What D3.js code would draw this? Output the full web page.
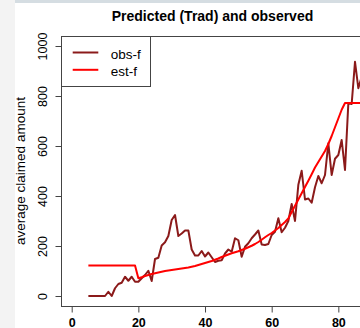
<!DOCTYPE html>
<html>
<head>
<meta charset="utf-8">
<script src="https://cdn.jsdelivr.net/npm/d3@7"></script>
<style>
  html, body { margin: 0; padding: 0; background: #fff; }
  svg { display: block; font-family: "Liberation Sans", Arial, Helvetica, sans-serif; }
</style>
</head>
<body>
<svg id="chart" width="360" height="328"></svg>
<script>
// Age of policyholder (x) with observed and estimated average claim amount
const ages = [5, 6, 7, 8, 9, 10, 11, 12, 13, 14, 15, 16, 17, 18, 19, 20, 21, 22, 23, 24,
  25, 26, 27, 28, 29, 30, 31, 32, 33, 34, 35, 36, 37, 38, 39, 40, 41, 42, 43, 44,
  45, 46, 47, 48, 49, 50, 51, 52, 53, 54, 55, 56, 57, 58, 59, 60, 61, 62, 63, 64,
  65, 66, 67, 68, 69, 70, 71, 72, 73, 74, 75, 76, 77, 78, 79, 80, 81, 82, 83, 84,
  85, 86, 87];

const observed = [0, 0, 0, 0, 0, 0, 17, 0, 31, 48, 53, 77, 61, 77, 57, 57, 71, 84, 101, 60,
  148, 153, 202, 215, 240, 304, 324, 240, 250, 262, 262, 186, 162, 162, 180, 158, 174, 155, 136, 141,
  143, 170, 186, 177, 231, 223, 157, 197, 211, 231, 246, 262, 206, 204, 208, 244, 257, 311, 255, 273,
  300, 368, 300, 445, 501, 386, 390, 373, 435, 480, 451, 484, 611, 484, 549, 564, 624, 504, 771, 768,
  937, 831, 877];

const estimated = [122, 122, 122, 122, 122, 122, 122, 122, 122, 122, 122, 122, 122, 122, 122, 71, 75, 80, 84, 88,
  91, 94, 97, 100, 102, 104, 106, 108, 110, 112, 114, 117, 120, 124, 128, 132, 136, 140, 145, 150,
  156, 161, 166, 171, 175, 179, 184, 189, 195, 201, 208, 216, 225, 235, 244, 252, 262, 272, 284, 296,
  310, 336, 361, 386, 411, 436, 461, 487, 514, 536, 558, 580, 608, 640, 675, 710, 745, 772, 772, 772,
  772, 772, 772];

const xTicks = [0, 20, 40, 60, 80];
const yTicks = [0, 200, 400, 600, 800, 1000];
const seriesNames = ["obs-f", "est-f"];
const seriesColors = ["#8B1A1A", "#FF0000"];
const titleText = "Predicted (Trad) and observed";
const yTitle = "average claimed amount";

const svg = d3.select("#chart");
const W = 360, H = 328;
const plot = { left: 61, right: 364, top: 36, bottom: 306 };

// page backdrop strips
svg.append("rect").attr("x", 0).attr("y", 0).attr("width", W).attr("height", H).attr("fill", "#ffffff");
svg.append("rect").attr("x", 0).attr("y", 0).attr("width", 15).attr("height", H).attr("fill", "#f3f3f3");
svg.append("rect").attr("x", 15).attr("y", 0).attr("width", W - 15).attr("height", 3).attr("fill", "#d5dde2");

// scales: R-style 4% padding around the data range
const x = d3.scaleLinear().domain([-3.21, 87.7]).range([plot.left, plot.right]);
const y = d3.scaleLinear().domain([-40, 1040]).range([plot.bottom, plot.top]);

svg.append("defs").append("clipPath").attr("id", "plotClip")
  .append("rect")
  .attr("x", plot.left).attr("y", plot.top)
  .attr("width", plot.right - plot.left).attr("height", plot.bottom - plot.top);

const g = svg.append("g").attr("clip-path", "url(#plotClip)");

const rows = ages.map((a, i) => ({ age: a, obs: observed[i], est: estimated[i] }));

const lineObs = d3.line().x(d => x(d.age)).y(d => y(d.obs));
const lineEst = d3.line().x(d => x(d.age)).y(d => y(d.est));

g.append("path").datum(rows).attr("d", lineObs)
  .attr("fill", "none").attr("stroke", seriesColors[0]).attr("stroke-width", 2)
  .attr("stroke-linejoin", "round");
g.append("path").datum(rows).attr("d", lineEst)
  .attr("fill", "none").attr("stroke", seriesColors[1]).attr("stroke-width", 2)
  .attr("stroke-linejoin", "round");

// plot frame
svg.append("rect")
  .attr("x", plot.left + 0.5).attr("y", plot.top + 0.5)
  .attr("width", plot.right - plot.left).attr("height", plot.bottom - plot.top)
  .attr("fill", "none").attr("stroke", "#444").attr("stroke-width", 1);

// x axis
const xAxis = svg.append("g")
  .attr("transform", `translate(0,${plot.bottom + 0.5})`)
  .call(d3.axisBottom(x).tickValues(xTicks).tickSize(6).tickSizeOuter(0).tickFormat(d3.format("d")));
xAxis.select(".domain").remove();
xAxis.selectAll(".tick line").attr("stroke", "#444");
xAxis.selectAll(".tick text")
  .attr("y", 20).attr("dy", 0)
  .attr("font-size", "12.5px").attr("font-weight", "bold")
  .attr("font-family", "Liberation Sans, Arial, sans-serif")
  .attr("fill", "#000");

// y axis with rotated labels
const yAxis = svg.append("g")
  .attr("transform", `translate(${plot.left + 0.5},0)`)
  .call(d3.axisLeft(y).tickValues(yTicks).tickSize(6).tickSizeOuter(0).tickFormat(d3.format("d")));
yAxis.select(".domain").remove();
yAxis.selectAll(".tick line").attr("stroke", "#444");
yAxis.selectAll(".tick text")
  .attr("transform", "rotate(-90)")
  .attr("x", 0).attr("y", -15).attr("dy", 0)
  .attr("text-anchor", "middle")
  .attr("font-size", "12.5px")
  .attr("font-family", "Liberation Sans, Arial, sans-serif")
  .attr("fill", "#000");

// titles
svg.append("text")
  .attr("x", (plot.left + plot.right) / 2).attr("y", 20.5)
  .attr("text-anchor", "middle")
  .attr("font-size", "14px").attr("font-weight", "bold")
  .text(titleText);

svg.append("text")
  .attr("transform", `translate(25,${(plot.top + plot.bottom) / 2}) rotate(-90)`)
  .attr("text-anchor", "middle")
  .attr("font-size", "13.5px")
  .text(yTitle);

// legend
const legend = svg.append("g");
legend.append("rect")
  .attr("x", plot.left + 0.5).attr("y", plot.top + 0.5)
  .attr("width", 89).attr("height", 50)
  .attr("fill", "#fff").attr("stroke", "#444").attr("stroke-width", 1);
seriesNames.forEach((name, i) => {
  const ly = 52.5 + i * 17.3;
  legend.append("line")
    .attr("x1", 72.7).attr("x2", 98.3).attr("y1", ly).attr("y2", ly)
    .attr("stroke", seriesColors[i]).attr("stroke-width", 2);
  legend.append("text")
    .attr("x", 110.7).attr("y", ly + 6.5)
    .attr("font-size", "13.5px")
    .text(name);
});
</script>
</body>
</html>
